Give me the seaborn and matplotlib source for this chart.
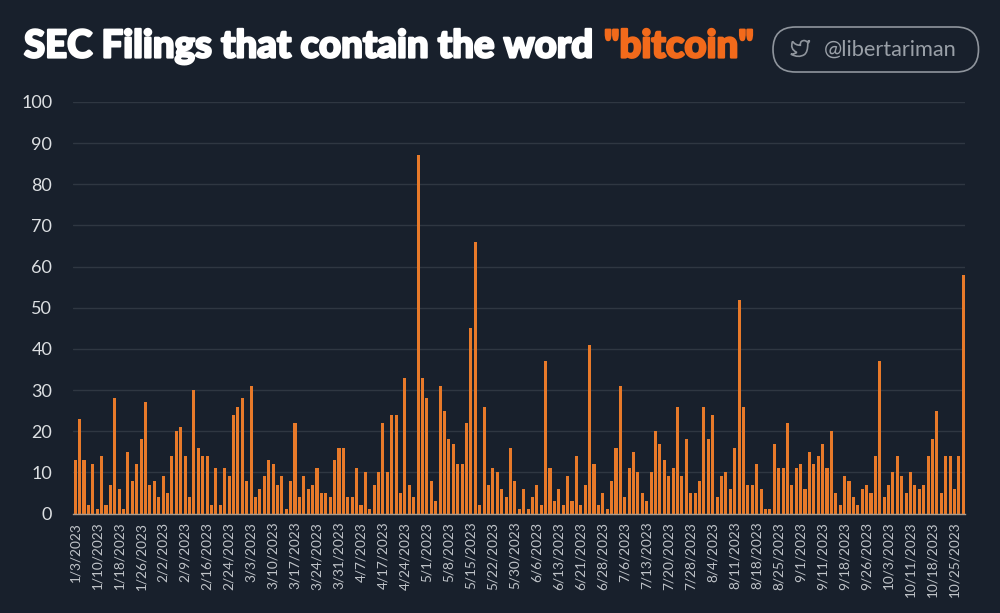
import matplotlib
matplotlib.use("Agg")
import matplotlib.pyplot as plt
import matplotlib.patheffects as pe
from matplotlib.patches import FancyBboxPatch, PathPatch
from matplotlib.path import Path
import seaborn as sns

# filings per trading day
filings = [
    13, 23, 13, 2, 12, 1, 14, 2, 7, 28, 6, 1, 15, 8, 12, 18, 27, 7, 8, 4,
    9, 5, 14, 20, 21, 14, 4, 30, 16, 14, 14, 2, 11, 2, 11, 9, 24, 26, 28, 8,
    31, 4, 6, 9, 13, 12, 7, 9, 1, 8, 22, 4, 9, 6, 7, 11, 5, 5, 4, 13,
    16, 16, 4, 4, 11, 2, 10, 1, 7, 10, 22, 10, 24, 24, 5, 33, 7, 4, 87, 33,
    28, 8, 3, 31, 25, 18, 17, 12, 12, 22, 45, 66, 2, 26, 7, 11, 10, 6, 4, 16,
    8, 1, 6, 1, 4, 7, 2, 37, 11, 3, 6, 2, 9, 3, 14, 2, 7, 41, 12, 2,
    5, 1, 8, 16, 31, 4, 11, 15, 10, 5, 3, 10, 20, 17, 13, 9, 11, 26, 9, 18,
    5, 5, 8, 26, 18, 24, 4, 9, 10, 6, 16, 52, 26, 7, 7, 12, 6, 1, 1, 17,
    11, 11, 22, 7, 11, 12, 6, 15, 12, 14, 17, 11, 20, 5, 2, 9, 8, 4, 2, 6,
    7, 5, 14, 37, 4, 7, 10, 14, 9, 5, 10, 7, 6, 7, 14, 18, 25, 5, 14, 14,
    6, 14, 58,
]
days = list(range(len(filings)))

# every fifth day gets a label
date_labels = [
    "1/3/2023", "1/10/2023", "1/18/2023", "1/26/2023", "2/2/2023", "2/9/2023",
    "2/16/2023", "2/24/2023", "3/3/2023", "3/10/2023", "3/17/2023", "3/24/2023",
    "3/31/2023", "4/7/2023", "4/17/2023", "4/24/2023", "5/1/2023", "5/8/2023",
    "5/15/2023", "5/22/2023", "5/30/2023", "6/6/2023", "6/13/2023", "6/21/2023",
    "6/28/2023", "7/6/2023", "7/13/2023", "7/20/2023", "7/28/2023", "8/4/2023",
    "8/11/2023", "8/18/2023", "8/25/2023", "9/1/2023", "9/11/2023", "9/18/2023",
    "9/26/2023", "10/3/2023", "10/11/2023", "10/18/2023", "10/25/2023",
]
y_ticks = list(range(0, 101, 10))

bg = "#18202c"
orange = "#e87a2a"

sns.set_theme(style="dark")
plt.rcParams["font.family"] = ["Lato", "DejaVu Sans"]

fig = plt.figure(figsize=(10, 6.13), dpi=100, facecolor=bg)
W, H = 1000, 613
left, right, top, bottom = 73, 965.5, 102, 513.5
ax = fig.add_axes([left / W, 1 - bottom / H, (right - left) / W, (bottom - top) / H])
ax.set_facecolor(bg)

sns.barplot(x=days, y=filings, color=orange, saturation=1, width=0.7, linewidth=0, ax=ax, zorder=3)

ax.set_xlim(-0.5, len(filings) - 0.5)
ax.set_ylim(0, 100)
ax.set_xlabel("")
ax.set_ylabel("")
ax.set_yticks(y_ticks)
ax.set_xticks(days[::5])
ax.set_xticklabels(date_labels, rotation=90, fontsize=9.8, color="#c0c4c9")
ax.tick_params(axis="x", length=0, pad=6)
ax.tick_params(axis="y", length=0, pad=15, labelsize=13, labelcolor="#dcdfe2")
ax.grid(axis="y", color="#2f3742", lw=1, zorder=0)
ax.grid(axis="x", visible=False)
for s in ["top", "right", "left"]:
    ax.spines[s].set_visible(False)
ax.spines["bottom"].set_color("#a89a8c")
ax.spines["bottom"].set_linewidth(1)
ax.spines["bottom"].set_zorder(4)

# overlay in picture pixels for the header
over = fig.add_axes([0, 0, 1, 1], facecolor="none")
over.set_xlim(0, W)
over.set_ylim(H, 0)
over.axis("off")

title_font = dict(family="Lato", fontweight=900, fontsize=27.6, va="baseline")
fat = [pe.withStroke(linewidth=1.6, foreground="white")]
over.text(24, 57.5, "SEC Filings that contain the word", color="white", path_effects=fat, **title_font)
fat2 = [pe.withStroke(linewidth=1.6, foreground="#f26a1b")]
over.text(604, 57.5, '"bitcoin"', color="#f26a1b", path_effects=fat2, **title_font)

over.add_patch(FancyBboxPatch((773, 27), 205.5, 45, boxstyle="round,pad=0,rounding_size=22.5",
                              fc="none", ec="#8f959d", lw=1.2))
over.text(824, 50, "@libertariman", color="#9aa0a8", fontsize=15.7, va="center", ha="left")

# twitter bird outline
bird = [(23, 3), (21.6, 4), (20, 4.53), (18.8, 3), (16.5, 3), (12.1, 3.2), (12.14, 7.53),
        (12.14, 8.53), (6.4, 8.7), (3, 4), (-0.5, 13), (8, 17), (4.8, 19.2), (1, 19),
        (10, 24), (17, 19.5), (21, 16.5), (20.92, 6.67), (22.4, 5.2), (23, 3)]
codes = [Path.MOVETO, Path.CURVE3, Path.CURVE3, Path.CURVE3, Path.CURVE3, Path.CURVE3, Path.CURVE3,
         Path.LINETO, Path.CURVE3, Path.CURVE3, Path.CURVE3, Path.CURVE3, Path.CURVE3, Path.CURVE3,
         Path.CURVE3, Path.CURVE3, Path.CURVE3, Path.CURVE3, Path.CURVE3, Path.CURVE3]
bird_px = [(790 + x * 0.85, 38 + y * 0.85) for x, y in bird]
over.add_patch(PathPatch(Path(bird_px, codes), fc="none", ec="#8f959d", lw=1.2))

fig.savefig("out.png", dpi=100, facecolor=bg)
